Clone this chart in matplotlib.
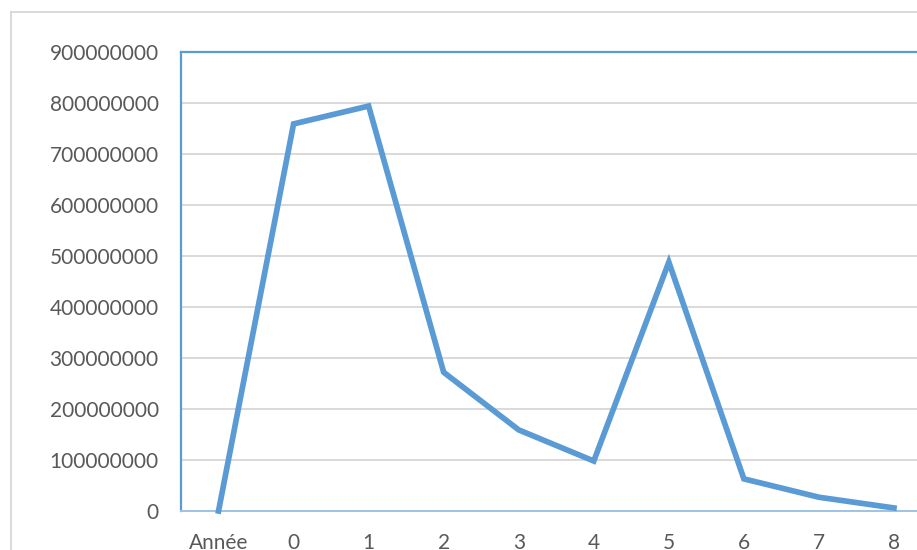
import matplotlib
matplotlib.use("Agg")
import matplotlib.pyplot as plt
from matplotlib.lines import Line2D
from matplotlib.ticker import FuncFormatter

# series: one value per category
categories = ["Année", "0", "1", "2", "3", "4", "5", "6", "7", "8"]
values = [0, 759e6, 794e6, 272e6, 159e6, 98e6, 488e6, 63e6, 27e6, 6e6]
y_ticks = [0, 1e8, 2e8, 3e8, 4e8, 5e8, 6e8, 7e8, 8e8, 9e8]

blue = "#5B9BD5"
grid_gray = "#D9D9D9"
text_gray = "#595959"

plt.rcParams["font.family"] = ["Lato", "DejaVu Sans"]

fig = plt.figure(figsize=(9.17, 5.5), dpi=100)

# plot area runs past the right edge of the canvas
ax = fig.add_axes([181 / 917, 39 / 550, 750.5 / 917, 459 / 550])

x = list(range(len(categories)))
ax.plot(x, values, color=blue, lw=4.1, solid_joinstyle="miter", clip_on=False, zorder=3)

ax.set_xlim(-0.5, len(categories) - 0.5)
ax.set_ylim(0, 9e8)
ax.set_yticks(y_ticks)
ax.yaxis.set_major_formatter(FuncFormatter(lambda v, p: f"{int(round(v))}"))
ax.set_xticks(x)
ax.set_xticklabels(categories)

ax.grid(axis="y", color=grid_gray, lw=1.4)
ax.set_axisbelow(True)
ax.tick_params(axis="both", length=0, labelsize=15, labelcolor=text_gray)
ax.tick_params(axis="y", pad=16)
ax.tick_params(axis="x", pad=16)

ax.spines["left"].set_color(blue)
ax.spines["left"].set_linewidth(1.6)
ax.spines["top"].set_color(blue)
ax.spines["top"].set_linewidth(1.6)
ax.spines["bottom"].set_color("#9DC3E6")
ax.spines["bottom"].set_linewidth(1.4)
ax.spines["right"].set_visible(False)

# outer chart border (light gray)
fig.add_artist(Line2D([10.5 / 917, 10.5 / 917], [0, 538 / 550], color=grid_gray, lw=1.4))
fig.add_artist(Line2D([10.5 / 917, 1], [538 / 550, 538 / 550], color=grid_gray, lw=1.4))

fig.savefig("out.png", dpi=100)
